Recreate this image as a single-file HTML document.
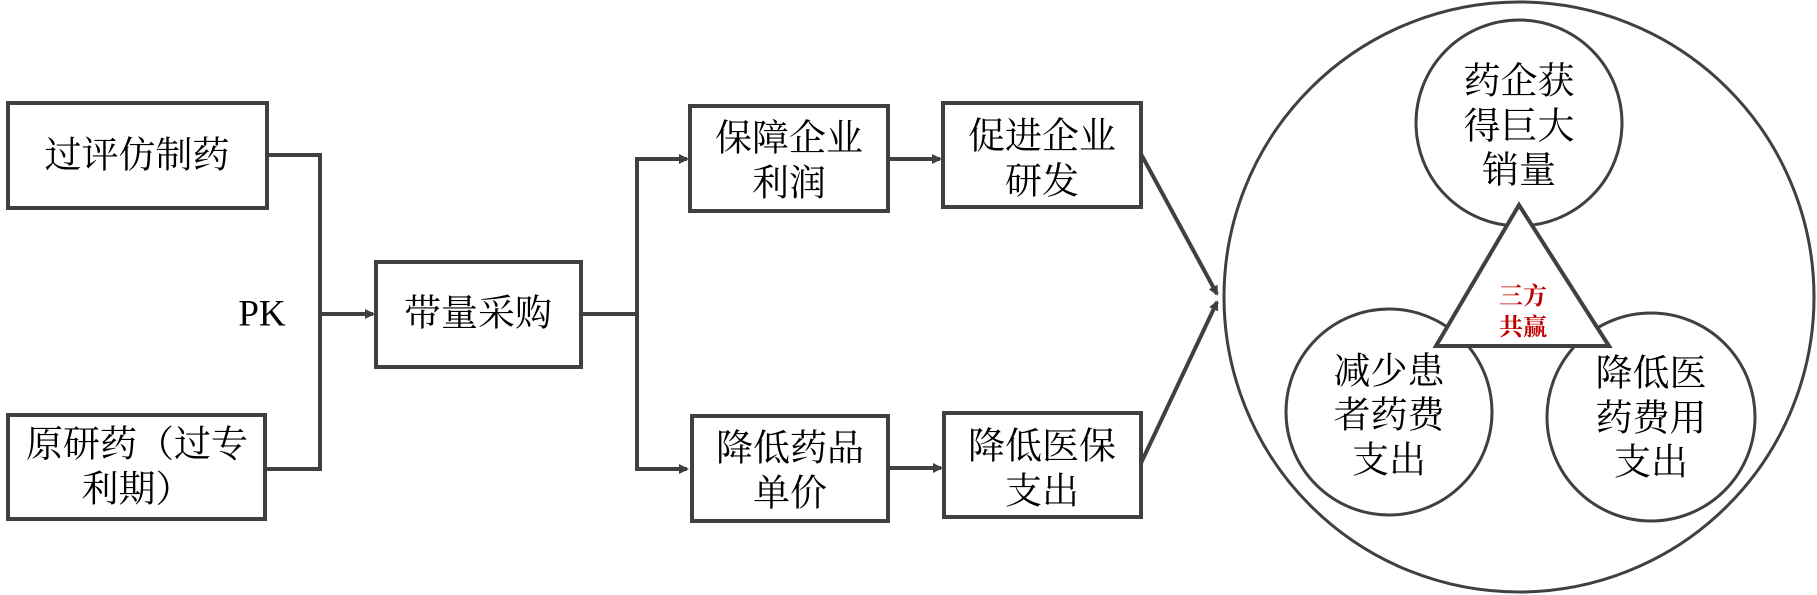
<!DOCTYPE html>
<html><head><meta charset="utf-8"><style>
html,body{margin:0;padding:0;background:#fff;}
svg{display:block;}
text{font-family:"Liberation Serif","Noto Serif CJK SC",serif;fill:#000;}
</style></head><body>
<svg width="1817" height="595" viewBox="0 0 1817 595" xmlns="http://www.w3.org/2000/svg">
<defs>
<marker id="a" markerWidth="10" markerHeight="10" refX="8" refY="5" orient="auto" markerUnits="userSpaceOnUse">
<path d="M0,0 L10,5 L0,10 z" fill="#404040"/></marker>
</defs>
<g stroke="#404040" stroke-width="4" fill="none">
<rect x="8" y="103" width="259" height="105"/>
<rect x="8" y="415" width="257" height="104"/>
<rect x="376" y="262" width="205" height="105"/>
<rect x="690" y="106" width="198" height="105"/>
<rect x="692" y="416" width="196" height="105"/>
<rect x="943" y="103" width="198" height="104"/>
<rect x="944" y="413" width="197" height="104"/>
<polyline points="267,155 320,155 320,469 265,469"/>
<line x1="320" y1="314" x2="373" y2="314" marker-end="url(#a)"/>
<line x1="581" y1="314" x2="637" y2="314"/>
<polyline points="687,159 637,159 637,469 687,469" marker-end="url(#a)"/>
<line x1="637" y1="159" x2="687" y2="159" marker-end="url(#a)"/>
<line x1="888" y1="159" x2="940" y2="159" marker-end="url(#a)"/>
<line x1="888" y1="468" x2="941" y2="468" marker-end="url(#a)"/>
<line x1="1141" y1="154" x2="1217" y2="294" marker-end="url(#a)"/>
<line x1="1141" y1="463" x2="1217" y2="302" marker-end="url(#a)"/>
</g>
<g stroke="#404040" stroke-width="3" fill="#fff">
<ellipse cx="1519" cy="297" rx="295" ry="295"/>
<circle cx="1519" cy="123" r="103"/>
<circle cx="1389" cy="412" r="103"/>
<circle cx="1651" cy="417" r="104"/>
<polygon points="1519,205 1609,346 1436,346" stroke-width="4"/>
</g>
<g font-size="37" text-anchor="middle" dominant-baseline="central">
<text x="137" y="156">过评仿制药</text>
<text x="137" y="445">原研药（过专</text>
<text x="137" y="490">利期）</text>
<text x="262" y="314">PK</text>
<text x="478" y="314">带量采购</text>
<text x="789" y="139">保障企业</text>
<text x="789" y="184">利润</text>
<text x="790" y="449">降低药品</text>
<text x="790" y="494">单价</text>
<text x="1042" y="137">促进企业</text>
<text x="1042" y="182">研发</text>
<text x="1042" y="447">降低医保</text>
<text x="1042" y="492">支出</text>
<text x="1519" y="82">药企获</text>
<text x="1519" y="127">得巨大</text>
<text x="1519" y="171">销量</text>
<text x="1389" y="372">减少患</text>
<text x="1389" y="416">者药费</text>
<text x="1389" y="461">支出</text>
<text x="1651" y="374">降低医</text>
<text x="1651" y="419">药费用</text>
<text x="1651" y="463">支出</text>
</g>
<g font-size="24" font-weight="bold" text-anchor="middle" dominant-baseline="central">
<text x="1523" y="297" style="fill:#c00000">三方</text>
<text x="1523" y="328" style="fill:#c00000">共赢</text>
</g>
</svg>
</body></html>
